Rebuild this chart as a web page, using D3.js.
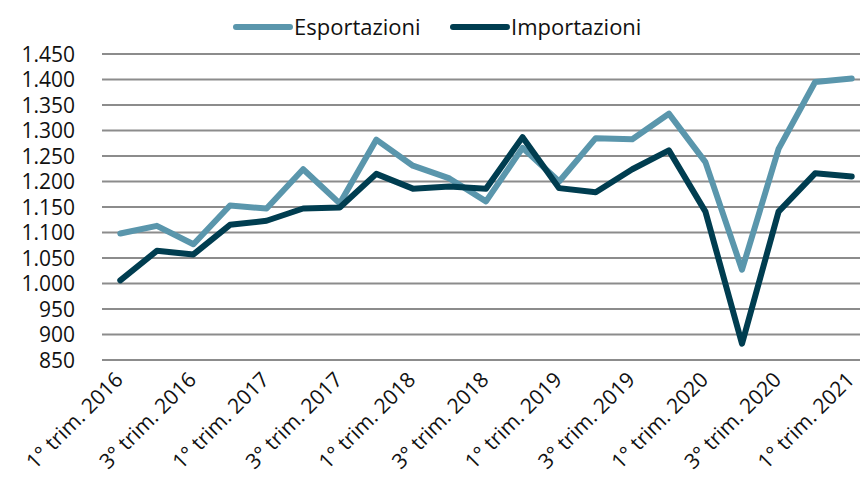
<!doctype html>
<html lang="it">
<head>
	<meta charset="UTF-8">
	<title>Esportazioni e importazioni</title>
	<style>
		body {
			margin: 0;
			background: #fff;
		}

		svg text {
			font-family: "Open Sans", "Noto Sans", sans-serif;
			fill: #111;
		}

		.grid line {
			stroke: #8c8c8c;
			stroke-width: 2;
		}

		.serie {
			fill: none;
			stroke-width: 6;
			stroke-linejoin: round;
			stroke-linecap: round;
		}
	</style>
</head>
<body>
	<script src="https://cdn.jsdelivr.net/npm/d3@7"></script>
	<script>
		// trimestri dal 1° 2016 al 1° 2021
		var trimestri = [
			'1° trim. 2016', '2° trim. 2016', '3° trim. 2016', '4° trim. 2016',
			'1° trim. 2017', '2° trim. 2017', '3° trim. 2017', '4° trim. 2017',
			'1° trim. 2018', '2° trim. 2018', '3° trim. 2018', '4° trim. 2018',
			'1° trim. 2019', '2° trim. 2019', '3° trim. 2019', '4° trim. 2019',
			'1° trim. 2020', '2° trim. 2020', '3° trim. 2020', '4° trim. 2020',
			'1° trim. 2021'
		];

		var esportazioni = [1098, 1113, 1077, 1153, 1147, 1224, 1157, 1282, 1231, 1206,
			1161, 1266, 1200, 1285, 1283, 1333, 1238, 1027, 1264, 1395, 1402];

		var importazioni = [1006, 1064, 1057, 1115, 1123, 1147, 1149, 1215, 1186, 1190,
			1186, 1287, 1187, 1179, 1224, 1261, 1141, 882, 1141, 1216, 1210];

		var yTicks = [850, 900, 950, 1000, 1050, 1100, 1150, 1200, 1250, 1300, 1350, 1400, 1450];

		var serie = [
			{ nome: 'Esportazioni', valori: esportazioni, colore: '#5a96ac' },
			{ nome: 'Importazioni', valori: importazioni, colore: '#003d50' }
		];

		var w = 860,
			h = 477;

		var svg = d3.select('body')
			.append('svg')
			.attr('width', w)
			.attr('height', h);

		var xScale = d3.scaleBand()
			.domain(trimestri)
			.range([102, 870]);

		var yScale = d3.scaleLinear()
			.domain([850, 1450])
			.range([360, 54]);

		var xPos = function(i) {
			return xScale(trimestri[i]) + xScale.bandwidth() / 2;
		};

		var fmt = d3.formatLocale({ decimal: ',', thousands: '.', grouping: [3], currency: ['€', ''] }).format(',');

		// griglia orizzontale
		svg.append('g')
			.attr('class', 'grid')
			.selectAll('line')
			.data(yTicks)
			.enter()
			.append('line')
			.attr('x1', 102)
			.attr('x2', w)
			.attr('y1', function(d) { return yScale(d); })
			.attr('y2', function(d) { return yScale(d); });

		// etichette asse y
		svg.append('g')
			.selectAll('text')
			.data(yTicks)
			.enter()
			.append('text')
			.attr('x', 75)
			.attr('y', function(d) { return yScale(d); })
			.attr('dy', '0.36em')
			.attr('text-anchor', 'end')
			.style('font-size', '21px')
			.text(function(d) { return fmt(d); });

		// etichette asse x, una ogni due trimestri
		svg.append('g')
			.selectAll('text')
			.data(trimestri.filter(function(d, i) { return i % 2 === 0; }))
			.enter()
			.append('text')
			.attr('text-anchor', 'end')
			.style('font-size', '21px')
			.attr('transform', function(d) {
				var x = xScale(d) + xScale.bandwidth() / 2 + 4;
				return 'translate(' + x + ',381) rotate(-45)';
			})
			.text(function(d) { return d; });

		// linee
		var line = d3.line()
			.x(function(d, i) { return xPos(i); })
			.y(function(d) { return yScale(d); });

		svg.selectAll('path.serie')
			.data(serie)
			.enter()
			.append('path')
			.attr('class', 'serie')
			.attr('stroke', function(d) { return d.colore; })
			.attr('d', function(d) { return line(d.valori); });

		// legenda
		var legendX = [236, 453];
		var legend = svg.selectAll('g.legend')
			.data(serie)
			.enter()
			.append('g')
			.attr('class', 'legend')
			.attr('transform', function(d, i) { return 'translate(' + legendX[i] + ',27)'; });

		legend.append('line')
			.attr('x1', 0)
			.attr('x2', 54)
			.attr('stroke', function(d) { return d.colore; })
			.attr('stroke-width', 6)
			.attr('stroke-linecap', 'round');

		legend.append('text')
			.attr('x', 58)
			.attr('dy', '0.36em')
			.style('font-size', '22px')
			.text(function(d) { return d.nome; });
	</script>
</body>
</html>
